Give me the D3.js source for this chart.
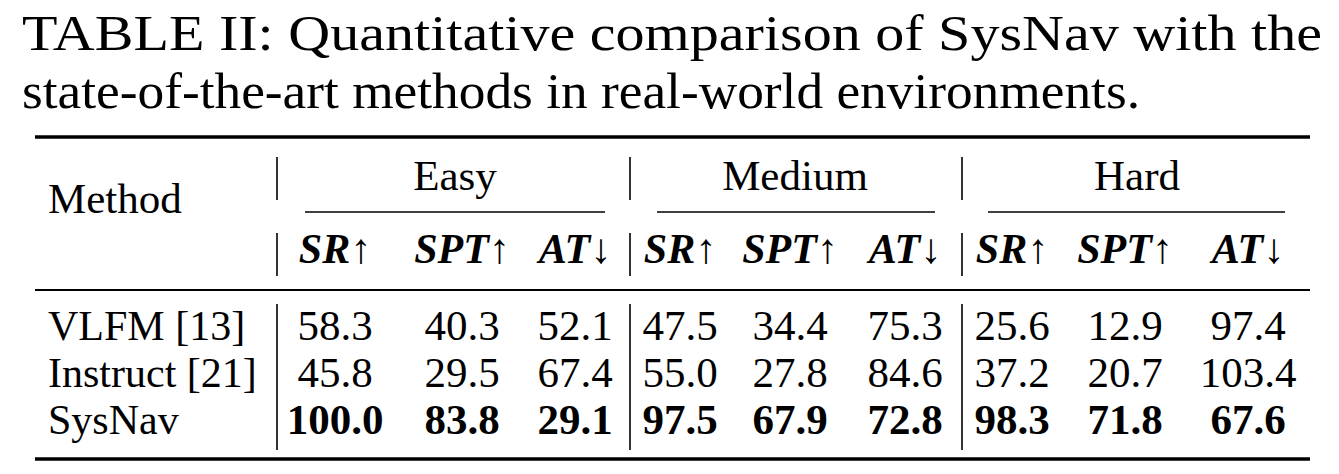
<!DOCTYPE html>
<html><head><meta charset="utf-8">
<script src="https://cdn.jsdelivr.net/npm/d3@7"></script>
<style>body{margin:0;background:#fff}svg{display:block}text{font-family:"Liberation Serif","Times New Roman",serif;fill:#000}</style>
</head><body><div id="chart"></div>
<script>
const titleLines = ['TABLE II: Quantitative comparison of SysNav with the', 'state-of-the-art methods in real-world environments.'];
const groups = ['Easy', 'Medium', 'Hard'];
const metrics = ['SR↑', 'SPT↑', 'AT↓'];
const methods = ['VLFM [13]', 'Instruct [21]', 'SysNav'];
const vlfm = [58.3, 40.3, 52.1, 47.5, 34.4, 75.3, 25.6, 12.9, 97.4];
const instruct = [45.8, 29.5, 67.4, 55.0, 27.8, 84.6, 37.2, 20.7, 103.4];
const sysnav = [100.0, 83.8, 29.1, 97.5, 67.9, 72.8, 98.3, 71.8, 67.6];
const rows = [vlfm, instruct, sysnav];

const W = 1339, H = 474;
const svg = d3.select('#chart').append('svg').attr('width', W).attr('height', H);

// title
svg.selectAll('text.title').data(titleLines).enter().append('text')
  .attr('x', 22).attr('y', (d, i) => 50 + i * 58)
  .attr('font-size', 51).attr('textLength', (d, i) => i ? 1118 : 1300)
  .attr('lengthAdjust', 'spacingAndGlyphs').text(d => d);

// column positions
const cols = d3.range(9);
const colX = d3.scaleOrdinal().domain(cols).range([335, 462, 575, 680, 790, 905, 1012, 1125, 1248]);
const groupX = d3.scaleOrdinal().domain(groups).range([455, 795, 1137]);
const groupSpan = { Easy: [305, 605], Medium: [657, 935], Hard: [988, 1285] };
const sepX = [277, 630, 962];
const rowY = d3.scaleBand().domain(methods).range([305, 446]).padding(0);

// rules
const rule = (y, w) => svg.append('line').attr('x1', 35).attr('x2', 1310).attr('y1', y).attr('y2', y).attr('stroke', '#000').attr('stroke-width', w);
rule(137, 3.5); rule(290, 2); rule(459, 3.5);
groups.forEach(g => svg.append('line').attr('x1', groupSpan[g][0]).attr('x2', groupSpan[g][1])
  .attr('y1', 212).attr('y2', 212).attr('stroke', '#000').attr('stroke-width', 1.6));

// vertical separators
const vsegs = [];
sepX.forEach(x => {
  vsegs.push([x, 157, 200]);
  vsegs.push([x, 233, 276]);
  vsegs.push([x, 304, 450]);
});
svg.selectAll('line.v').data(vsegs).enter().append('line')
  .attr('x1', d => d[0]).attr('x2', d => d[0]).attr('y1', d => d[1]).attr('y2', d => d[2])
  .attr('stroke', '#000').attr('stroke-width', 1.6);

// header
svg.append('text').attr('x', 48).attr('y', 213).attr('font-size', 43).text('Method');
svg.selectAll('text.g').data(groups).enter().append('text')
  .attr('x', d => groupX(d)).attr('y', 190).attr('text-anchor', 'middle').attr('font-size', 43).text(d => d);
svg.selectAll('text.m').data(cols).enter().append('text')
  .attr('x', d => colX(d)).attr('y', 263).attr('text-anchor', 'middle').attr('font-size', 42)
  .attr('font-weight', 'bold').attr('font-style', 'italic').text(d => metrics[d % 3]);

// body
methods.forEach((m, r) => {
  const y = rowY(m) + 35;
  svg.append('text').attr('x', 48).attr('y', y).attr('font-size', 42).text(m);
  svg.selectAll(null).data(rows[r]).enter().append('text')
    .attr('x', (d, i) => colX(i)).attr('y', y).attr('text-anchor', 'middle').attr('font-size', 43)
    .attr('font-weight', r === 2 ? 'bold' : 'normal').text(d => d.toFixed(1));
});
</script></body></html>
